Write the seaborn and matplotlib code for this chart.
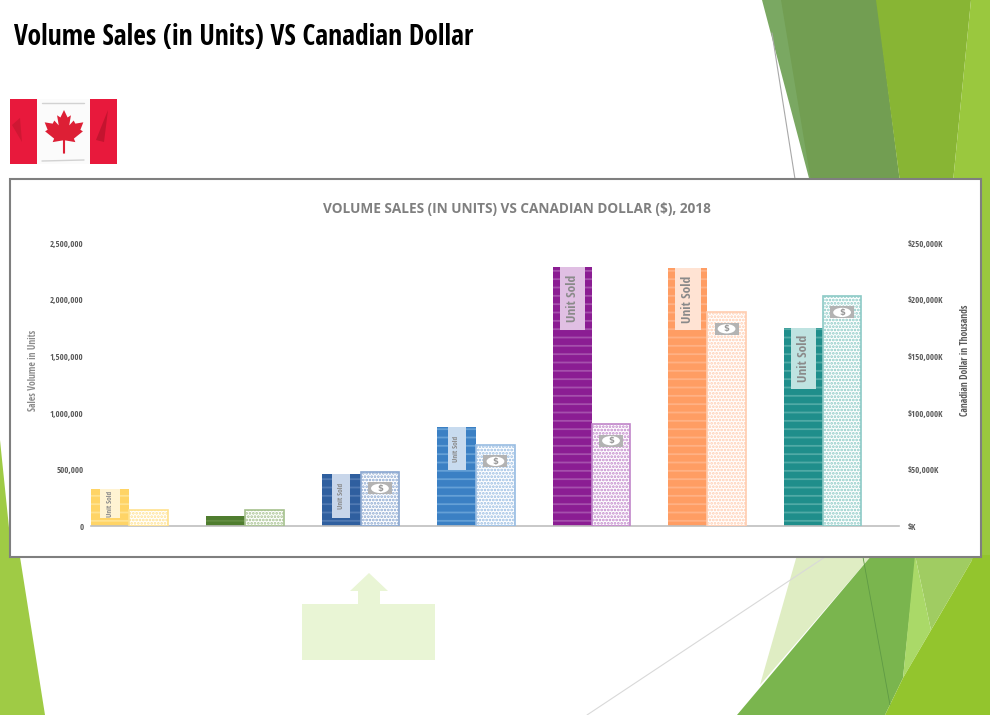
#!/usr/bin/env python3
"""Volume sales (in units) vs Canadian dollar, 2018 - slide with twin axis bar chart."""

import matplotlib

matplotlib.use("Agg")

import matplotlib.pyplot as plt
import pandas as pd
import seaborn as sns
from matplotlib import font_manager as fm
from matplotlib.patches import Ellipse, Polygon, Rectangle

W, H = 990, 715

# one slot per bar group, the source chart has no category labels
groups = ["g1", "g2", "g3", "g4", "g5", "g6", "g7"]
units_sold = [327000, 88000, 460000, 876000, 2290000, 2280000, 1750000]
dollars_k = [14000, 14600, 47800, 71700, 90000, 189000, 203500]

bar_colors = ["#ffd466", "#4f7d2f", "#2f5f9f", "#3b80c4", "#8b1d93", "#ff9d63", "#1f8e8b"]
dollar_colors = ["#ffe28f", "#a6c18e", "#8aa7d0", "#98bce2", "#c186ca", "#ffcdb0", "#8ccac6"]
stripe_colors = ["#ffe28f", "#628c42", "#5079b2", "#65a0d6", "#a550ac", "#ffb184", "#50aaa6"]
label_colors = ["#fff3d2", None, "#c8d6ea", "#c8dbef", "#e0bfe3", "#ffe3d3", "#bfe3e1"]

# how far each "Unit Sold" tag hangs down from the bar top, and how wide it is
tag_depth = [257000, 0, 390000, 380000, 557000, 549000, 540000]
tag_width = [0.5, 0, 0.47, 0.47, 0.66, 0.66, 0.66]
tag_font = [5.4, 0, 5.4, 5.4, 9.6, 9.6, 9.6]
has_money = [False, False, True, True, True, True, True]

left_ticks = [0, 500000, 1000000, 1500000, 2000000, 2500000]
left_labels = ["0", "500,000", "1,000,000", "1,500,000", "2,000,000", "2,500,000"]
right_ticks = [0, 50000, 100000, 150000, 200000, 250000]
right_labels = ["$K", "$50,000K", "$100,000K", "$150,000K", "$200,000K", "$250,000K"]

installed = {f.name for f in fm.fontManager.ttflist}
candidates = ["Open Sans Condensed", "Fira Sans Condensed", "Roboto Condensed",
              "Liberation Sans Narrow", "Open Sans"]
NARROW = next(name for name in candidates if name in installed)


def px(points):
    # slide pixels (origin top left) -> figure fraction
    return [(x / W, 1 - y / H) for x, y in points]


def add_shape(fig, points, color, zorder=-5):
    fig.add_artist(
        Polygon(px(points), closed=True, facecolor=color, edgecolor="none",
                transform=fig.transFigure, zorder=zorder)
    )


def add_rule(fig, x0, y0, x1, y1, color, lw=0.8, zorder=-4):
    (fx0, fy0), (fx1, fy1) = px([(x0, y0), (x1, y1)])
    fig.add_artist(
        plt.Line2D([fx0, fx1], [fy0, fy1], color=color, lw=lw,
                   transform=fig.transFigure, zorder=zorder)
    )


def draw_background(fig):
    # top right
    add_shape(fig, [(762, 0), (782, 0), (812, 182), (810, 182)], "#7aa862")
    add_shape(fig, [(781, 0), (877, 0), (900, 182), (811, 182)], "#729e52")
    add_shape(fig, [(876, 0), (971, 0), (953, 182), (900, 182)], "#88b534")
    add_shape(fig, [(971, 0), (990, 0), (990, 560), (953, 560), (953, 182)], "#9ac83e")
    add_rule(fig, 772, 33, 795, 179, "#a8a8a8")

    # left side
    add_shape(fig, [(0, 440), (12, 557), (20, 557), (45, 715), (0, 715)], "#9fcb45")

    # bottom right
    add_shape(fig, [(797, 555), (872, 555), (760, 685)], "#dfedc3")
    add_shape(fig, [(872, 555), (916, 555), (903, 678), (885, 715), (737, 715)], "#7ab54e")
    add_shape(fig, [(915, 555), (975, 555), (931, 630)], "#a0cc62")
    add_shape(fig, [(915, 555), (931, 630), (903, 678)], "#aad968")
    add_shape(fig, [(975, 555), (990, 555), (990, 715), (885, 715), (903, 678)], "#93c52d")
    add_rule(fig, 587, 715, 825, 557, "#d9d9d9")
    add_rule(fig, 863, 557, 890, 705, "#5f9a45", lw=0.6)

    # pale arrow callout under the chart
    add_shape(
        fig,
        [(302, 604), (358, 604), (358, 591), (350, 591), (369, 573), (388, 591),
         (380, 591), (380, 604), (435, 604), (435, 660), (302, 660)],
        "#e9f5d5",
    )


def draw_flag(fig):
    add_shape(fig, [(10, 99), (117, 99), (117, 164), (10, 164)], "#e8193c")
    add_shape(fig, [(37, 99), (90, 99), (90, 164), (37, 164)], "#fbfbfb")
    # fabric creases
    add_rule(fig, 42, 103, 84, 103, "#d2d2d2", lw=1.0)
    add_rule(fig, 42, 161, 84, 160, "#d2d2d2", lw=1.0)
    add_shape(fig, [(96, 140), (108, 110), (104, 142)], "#c4142f", zorder=-4)
    add_shape(fig, [(12, 125), (20, 118), (22, 142)], "#cf1733", zorder=-4)
    half = [(0, 1), (0.17, 0.66), (0.33, 0.76), (0.25, 0.3), (0.46, 0.52), (0.54, 0.38),
            (0.92, 0.44), (0.78, 0.1), (0.9, 0.03), (0.47, -0.3), (0.54, -0.46),
            (0.05, -0.38), (0.05, -0.98)]
    mirrored = [(-x, y) for x, y in reversed(half)]
    add_shape(fig, [(64 + 21 * x, 132 - 22 * y) for x, y in half + mirrored], "#dd1f35", zorder=-4)


def main():
    sns.set_theme(style="white")
    plt.rcParams["hatch.linewidth"] = 1.3

    fig = plt.figure(figsize=(W / 100, H / 100), dpi=100)
    draw_background(fig)
    draw_flag(fig)

    # white chart card
    fig.add_artist(
        Rectangle((10 / W, 1 - 557 / H), 971 / W, 378 / H, facecolor="white",
                  edgecolor="#7f7f7f", lw=1.5, transform=fig.transFigure, zorder=-1)
    )

    fig.text(14 / W, 1 - 37.5 / H, "Volume Sales (in Units) VS Canadian Dollar",
             family=NARROW, fontweight="bold", fontsize=19.8, color="black", va="center")
    fig.text(517 / W, 1 - 208.5 / H, "VOLUME SALES (IN UNITS) VS CANADIAN DOLLAR ($), 2018",
             family="Open Sans", fontweight="bold", fontsize=9.8, color="#7f7f7f",
             ha="center", va="center")
    fig.text(33 / W, 1 - 370 / H, "Sales Volume in Units", family=NARROW, fontsize=6.9,
             fontweight="bold", color="#8c8c8c", rotation=90, ha="center", va="center")
    fig.text(965 / W, 1 - 360 / H, "Canadian Dollar in Thousands", family=NARROW, fontsize=6.9,
             fontweight="bold", color="#595959", rotation=90, ha="center", va="center")

    ax = fig.add_axes([91 / W, 1 - 526 / H, (899 - 91) / W, 282.5 / H], facecolor="none")

    order = ["Units", "Dollars"]
    df_units = pd.DataFrame({"group": groups, "value": units_sold, "measure": "Units"})
    df_dollars = pd.DataFrame({"group": groups, "value": dollars_k, "measure": "Dollars"})

    sns.barplot(data=df_units, x="group", y="value", hue="measure", hue_order=order,
                dodge=True, width=0.67, gap=0, legend=False, ax=ax)
    ax2 = ax.twinx()
    ax2.patch.set_visible(False)
    sns.barplot(data=df_dollars, x="group", y="value", hue="measure", hue_order=order,
                dodge=True, width=0.67, gap=0, legend=False, ax=ax2)

    xlim = (-0.333, 6.66)
    for a, top in ((ax, 2500000), (ax2, 250000)):
        a.set_xlim(*xlim)
        a.set_ylim(0, top)
        a.set_xlabel("")
        a.set_ylabel("")
        a.set_xticks([])
        a.grid(False)
        for side in ("top", "left", "right"):
            a.spines[side].set_visible(False)
    ax.spines["bottom"].set_color("#bfbfbf")
    ax.spines["bottom"].set_linewidth(1.2)
    ax2.spines["bottom"].set_visible(False)

    ax.set_yticks(left_ticks, left_labels)
    ax2.set_yticks(right_ticks, right_labels)
    ax.tick_params(axis="y", length=0, pad=5.5)
    ax2.tick_params(axis="y", length=0, pad=6.5)
    for lab in ax.get_yticklabels() + ax2.get_yticklabels():
        lab.set_family(NARROW)
        lab.set_fontweight("bold")
        lab.set_fontsize(6.3)
        lab.set_color("#595959")

    unit_bars = sorted(ax.patches, key=lambda p: p.get_x())
    dollar_bars = sorted(ax2.patches, key=lambda p: p.get_x())

    for i, bar in enumerate(unit_bars):
        bar.set_facecolor(bar_colors[i])
        bar.set_edgecolor(stripe_colors[i])
        bar.set_linewidth(0)
        bar.set_hatch("--")

        if not tag_depth[i]:
            continue
        x_mid = bar.get_x() + bar.get_width() / 2
        w = bar.get_width() * tag_width[i]
        top = bar.get_height()
        ax.add_patch(Rectangle((x_mid - w / 2, top - tag_depth[i]), w, tag_depth[i],
                               facecolor=label_colors[i], edgecolor="none", zorder=4))
        ax.text(x_mid, top - tag_depth[i] / 2, "Unit Sold", rotation=90, ha="center", va="center",
                family=NARROW, fontweight="bold", fontsize=tag_font[i], color="#8a8a8a", zorder=5)

    for i, bar in enumerate(dollar_bars):
        bar.set_facecolor("white")
        bar.set_edgecolor(dollar_colors[i])
        bar.set_linewidth(1.2)
        bar.set_hatch(".....")

        if not has_money[i]:
            continue
        x_mid = bar.get_x() + bar.get_width() / 2
        w = bar.get_width()
        y_mid = bar.get_height() - 14500
        ax2.add_patch(Rectangle((x_mid - 0.31 * w, y_mid - 5300), 0.62 * w, 10600,
                                facecolor="#b3b3b3", edgecolor="none", zorder=4))
        ax2.add_patch(Ellipse((x_mid, y_mid), 0.46 * w, 8200, facecolor="white",
                              edgecolor="none", zorder=5))
        ax2.text(x_mid, y_mid, "$", ha="center", va="center", fontsize=6, fontweight="bold",
                 color="#9a9a9a", zorder=6)

    fig.savefig("out.png", dpi=100)


if __name__ == "__main__":
    main()
